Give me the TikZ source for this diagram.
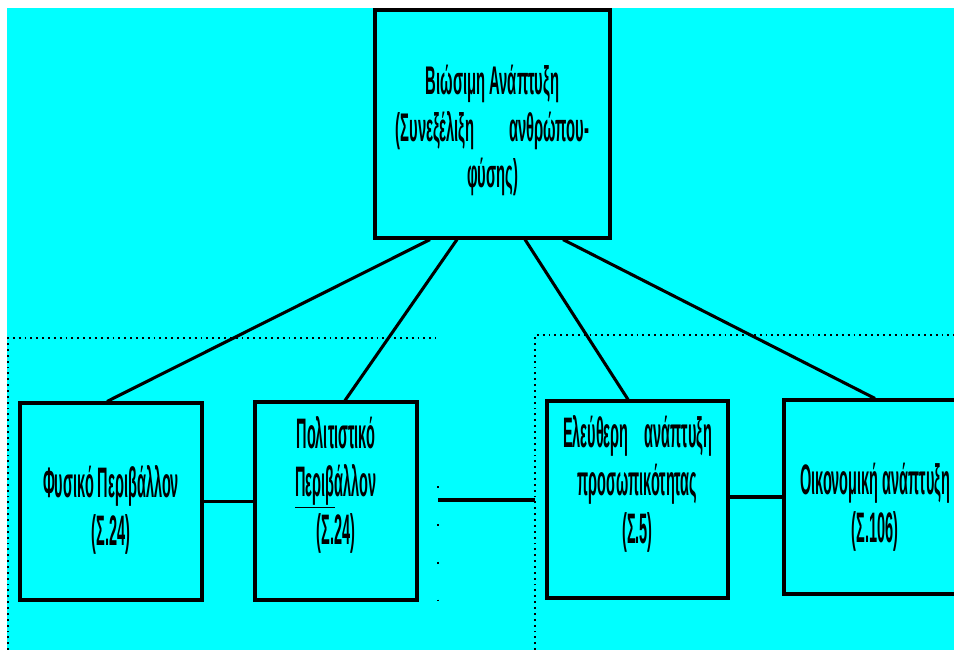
\documentclass[tikz,border=0pt]{standalone}
\usepackage{fontspec}
\newfontfamily\grf[FakeStretch=0.34]{Liberation Sans Bold}
\newfontfamily\grtop[FakeStretch=0.37]{Liberation Sans Bold}
\usetikzlibrary{calc}
\definecolor{bgcyan}{RGB}{0,255,255}
\tikzset{
  box/.style={draw=black, line width=2.3pt, inner sep=0pt},
  conn/.style={draw=black, line width=2.3pt},
  grp/.style={draw=black, line width=1.4pt, dash pattern=on 1.4pt off 3pt},
  txt/.style={font=\grf\fontsize{32}{36}\selectfont, align=center, inner sep=0pt, text=black},
  toptxt/.style={font=\grtop\fontsize{30}{35}\selectfont, align=center, inner sep=0pt, text=black},
}
\begin{document}
\begin{tikzpicture}[x=0.75pt,y=-0.75pt]
\useasboundingbox (0,0) rectangle (954,650);
\clip (0,0) rectangle (954,650);
\fill[bgcyan] (7,8) rectangle (954,650);

% dotted group frames
\coordinate (gl1) at (8,650);
\coordinate (gl2) at (8,338);
\coordinate (gl3) at (436,338);
\draw[grp] (gl1) -- (gl2) -- (gl3);
\coordinate (gm1) at (438,486);
\coordinate (gm2) at (438,618);
\draw[draw=black, line width=1.4pt, dash pattern=on 1.4pt off 27pt] (gm1) -- (gm2);
\coordinate (gr1) at (535,650);
\coordinate (gr2) at (535,335);
\coordinate (gr3) at (954,335);
\draw[grp] (gr1) -- (gr2) -- (gr3);

% boxes
\node[box, minimum width=176.25pt, minimum height=171pt,
      label={[toptxt, yshift=-5pt]center:{Βιώσιμη Ανάπτυξη\\(Συνεξέλιξη\hspace{26pt}ανθρώπου-\\φύσης)}}]
      (top) at (492.5,124) {};
\node[box, minimum width=136.5pt, minimum height=147.75pt,
      label={[txt, yshift=-6pt]center:{Φυσικό Περιβάλλον\\(Σ.24)}}]
      (b1) at (111,501.5) {};
\node[box, minimum width=121.5pt, minimum height=148.5pt,
      label={[txt, yshift=12pt]center:{Πολιτιστικό\\\underline{Περιβ}άλλον\\(Σ.24)}}]
      (b2) at (336,501) {};
\node[box, minimum width=135.75pt, minimum height=147.75pt,
      label={[txt, yshift=11.5pt]center:{Ελεύθερη\hspace{12pt}ανάπτυξη\\προσωπικότητας\\(Σ.5)}}]
      (b3) at (637.5,499.5) {};
\node[box, minimum width=136.5pt, minimum height=145.5pt,
      label={[txt, yshift=-8pt]center:{Οικονομική ανάπτυξη\\(Σ.106)}}]
      (b4) at (875,497) {};

% connectors from the top box
\draw[conn] ($(top.south)+(-62.5,0)$) -- ($(b1.north)+(-4,0)$);
\draw[conn] ($(top.south)+(-35.5,0)$) -- ($(b2.north)+(9,0)$);
\draw[conn] ($(top.south)+(32.5,0)$) -- ($(b3.north)+(-9.5,0)$);
\draw[conn] ($(top.south)+(70.5,0)$) -- (b4.north);

% horizontal connectors
\draw[conn] (b1.east) -- (b2.west |- b1.east);
\coordinate (ml) at (438,500);
\coordinate (mr) at (535,500);
\draw[conn] (ml) -- (mr);
\draw[conn] (b3.east |- b4.west) -- (b4.west);
\end{tikzpicture}
\end{document}
